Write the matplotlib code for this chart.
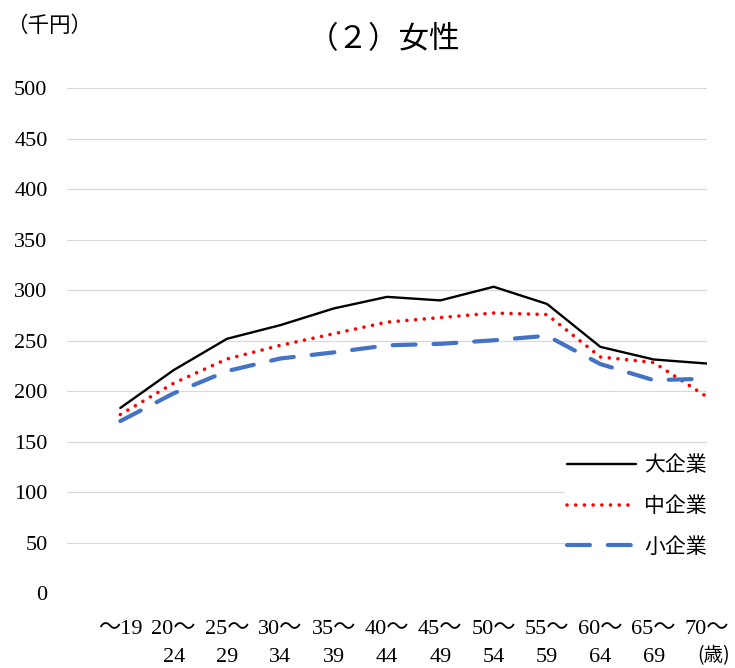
import matplotlib
matplotlib.use("Agg")
import matplotlib.pyplot as plt

# Age groups and monthly wages (thousand yen) by company size
age_groups = ["～19", "20～\n24", "25～\n29", "30～\n34", "35～\n39", "40～\n44",
              "45～\n49", "50～\n54", "55～\n59", "60～\n64", "65～\n69", "70～"]
large = [183.5, 221, 252, 265.5, 282, 293.5, 290, 303.5, 286.5, 244, 231.5, 227.5]
medium = [177, 208, 232, 245.5, 257, 268.5, 273, 277.5, 276, 234, 228.5, 194.5]
small = [170.5, 198, 220, 232.5, 238.5, 245.5, 247, 250.5, 255, 227, 211, 212.5]
series_labels = ["大企業", "中企業", "小企業"]
y_ticks = list(range(0, 501, 50))

W, H = 735, 668
fig = plt.figure(figsize=(W / 100, H / 100), dpi=100)
ax = fig.add_axes([67 / W, 1 - 593.3 / H, (707 - 67) / W, (593.3 - 88.3) / H])

x = list(range(len(age_groups)))
ax.plot(x, large, color="black", lw=1.7, solid_capstyle="round", zorder=3,
        label=series_labels[0])
ax.plot(x, medium, color="#FF0000", lw=2.6, linestyle=(0, (0.01, 2.4)),
        dash_capstyle="round", zorder=3, label=series_labels[1])
ax.plot(x, small, color="#4472C4", lw=3.0, linestyle=(0, (5.5, 4.3)),
        dash_capstyle="round", zorder=3, label=series_labels[2])

ax.set_xlim(-1, len(age_groups) - 1)
ax.set_ylim(0, 500)
ax.set_yticks(y_ticks)
ax.set_xticks(x)

tick_font = ["Liberation Serif", "Noto Sans CJK JP"]
ax.set_yticklabels([str(v) for v in y_ticks], family=tick_font, fontsize=16)
ax.set_xticklabels(age_groups, family=tick_font, fontsize=16, linespacing=1.65,
                   va="top")
ax.tick_params(axis="y", length=0, pad=14)
ax.tick_params(axis="x", length=0, pad=19)

ax.grid(axis="y", color="#D9D9D9", lw=0.9, zorder=0)
ax.set_axisbelow(True)
for s in ax.spines.values():
    s.set_visible(False)

leg = ax.legend(loc="upper left", bbox_to_anchor=(565 / W, 1 - 452 / H),
                bbox_transform=fig.transFigure, borderpad=0.1, borderaxespad=0,
                handlelength=3.3, handletextpad=0.4, labelspacing=0.9,
                prop={"family": ["Noto Sans CJK JP", "DejaVu Sans"], "size": 15},
                frameon=True, fancybox=False, edgecolor="none", facecolor="white",
                framealpha=1)
leg.set_zorder(5)

cjk = ["Noto Sans CJK JP", "DejaVu Sans"]
fig.text(384 / W, 1 - 40 / H, "（２）女性", ha="center", va="center",
         family=cjk, fontsize=22)
fig.text(6 / W, 1 - 26 / H, "（千円）", ha="left", va="center",
         family=cjk, fontsize=15.5)
fig.text(714 / W, 1 - 656 / H, "(歳)", ha="center", va="center",
         family=cjk, fontsize=14)

fig.savefig("out.png", dpi=100, facecolor="white")
